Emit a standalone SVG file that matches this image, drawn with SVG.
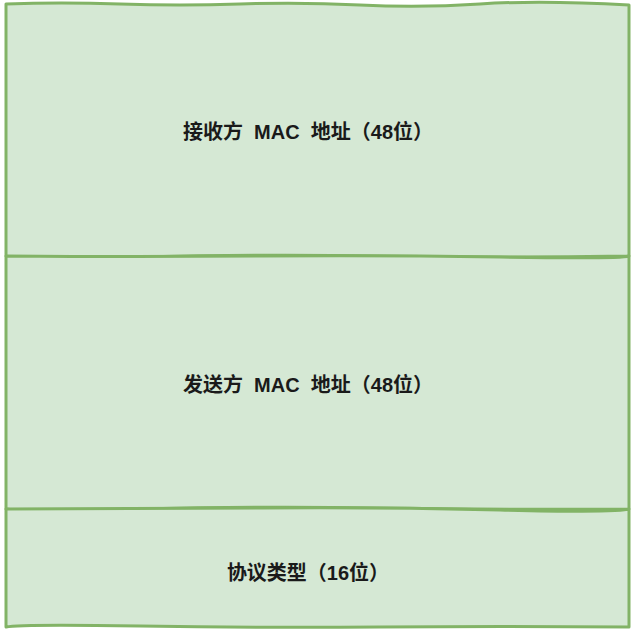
<svg xmlns="http://www.w3.org/2000/svg" width="636" height="635" viewBox="0 0 636 635">
<style>
.box{fill:#d5e8d4;stroke:#82b366;stroke-width:3;stroke-linejoin:round}
.lbl{font-family:"Liberation Sans","Noto Sans CJK SC",sans-serif;font-weight:bold;font-size:20px;fill:#1a1a1a;text-anchor:middle;dominant-baseline:central;white-space:pre}
</style>
<rect width="636" height="635" fill="#ffffff"/>
<g id="node-dst">
<path class="box" d="M6,4 Q60,2 120,4 T240,4 T360,5 T480,4 T629,5 L629,256 Q500,258 380,256 T140,257 T6,256 Z"/>
<text class="lbl" x="308" y="132" xml:space="preserve">接收方  MAC  地址（48位）</text>
</g>
<g id="node-src">
<path class="box" d="M6,256 Q140,257 260,256 T500,257 T629,256 L629,509 Q500,510 380,508 T140,509 T6,509 Z"/>
<text class="lbl" x="308" y="385" xml:space="preserve">发送方  MAC  地址（48位）</text>
</g>
<g id="node-type">
<path class="box" d="M6,509 Q140,509 260,508 T500,510 T629,509 L629,627 Q500,626 380,627 T140,626 T6,627 Z"/>
<text class="lbl" x="308" y="573">协议类型（16位）</text>
</g>
<g id="connectors"></g>
</svg>
